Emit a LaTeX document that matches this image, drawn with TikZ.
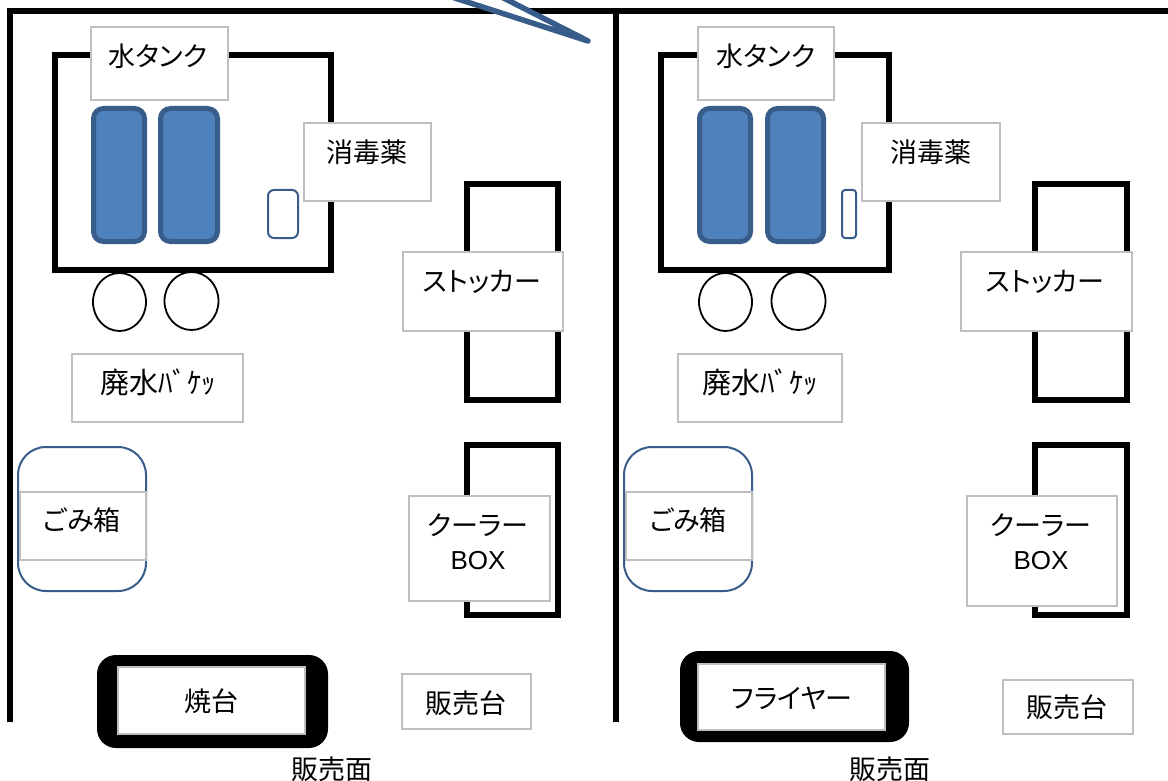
\documentclass[tikz,border=0pt]{standalone}
\usepackage{fontspec}
\setmainfont{Noto Sans CJK JP}[RawFeature=+palt]
\newfontfamily\latinfont{Liberation Sans}
\tikzset{
  x=1pt,y=-1pt,
  wall/.style={draw=black,line width=5.5pt,line cap=butt,line join=miter},
  tankblue/.style={draw=edgeblue,fill=faceblue,line width=5pt,rounded corners=10pt},
  thinblue/.style={draw=edgeblue,fill=white,line width=2pt},
  labelbox/.style={draw=boxgray,fill=white,line width=2pt},
  txt/.style={inner sep=0pt,font=\fontsize{27}{30}\selectfont,text=black},
  bigtxt/.style={inner sep=0pt,font=\fontsize{29}{32}\selectfont,text=black},
  latintxt/.style={inner sep=0pt,font=\latinfont\fontsize{26}{30}\selectfont,text=black},
  bucket/.style={draw=black,fill=white,line width=1.8pt},
  stove/.style={fill=black,rounded corners=19pt},
}
\definecolor{edgeblue}{HTML}{385D8A}
\definecolor{faceblue}{HTML}{4F81BD}
\definecolor{boxgray}{HTML}{BFBFBF}
\newcommand{\lbox}[8]{%
  \node[labelbox,inner sep=0pt,minimum width={(#4-#2)*1pt},minimum height={(#5-#3)*1pt}] (#1) at ({(#2+#4)/2},{(#3+#5)/2}) {};
  \node[txt] (#1t) at (#6,#7+1) {#8};}
\begin{document}
\begin{tikzpicture}
\useasboundingbox (0,0) rectangle (1168,781);
\clip (0,0) rectangle (1168,781);
% walls
\coordinate (wl) at (10,722);
\coordinate (wt) at (10,11);
\coordinate (wm) at (616,11);
\coordinate (wmb) at (616,722);
\coordinate (we) at (1168,11);
\draw[wall] (wl) -- (wt) -- (we);
\draw[wall] (wm) -- (wmb);
% callout
\coordinate (tip) at (588,41);
\coordinate (ca) at (430,-10);
\coordinate (cb) at (480,-14);
\draw[draw=edgeblue,line width=5.5pt,line join=round,fill=white] (ca) -- (tip) -- (cb);
% left tank
\draw[wall] (55,55) rectangle (331,270);
\draw[tankblue] (93.5,108.5) rectangle (144.5,241.5);
\draw[tankblue] (160.5,108.5) rectangle (217.5,241.5);
\draw[thinblue,rounded corners=6pt] (268,190) rectangle (298,238);
\draw[bucket] (119.5,302) ellipse [x radius=26.5,y radius=29];
\draw[bucket] (191.5,301) ellipse [x radius=27,y radius=29];
\draw[wall] (467,184) rectangle (558,400);
\draw[wall] (467,445) rectangle (558,615);
\draw[draw=edgeblue,fill=white,line width=2pt,rounded corners=28pt] (18,447) rectangle (146,591);
\fill[stove] (97,655) rectangle (328,748);
\lbox{a1}{91}{27}{228}{100}{158}{55}{水タンク}
\lbox{a2}{304}{123}{431}{201}{367}{151}{消毒薬}
\lbox{a3}{403}{252}{563}{331}{482}{281}{ストッカー}
\lbox{a4}{72}{354}{243}{422}{158}{381}{}
\node[bigtxt] (a4x) at (158,382) {廃水ﾊﾞｹｯ};
\lbox{a5}{20}{492}{146}{560}{82}{519}{ごみ箱}
\lbox{a6}{409}{496}{550}{601}{478}{524}{クーラー}
\node[latintxt] (a6b) at (478,561) {BOX};
\lbox{a7}{118}{667}{305}{734}{211}{700}{焼台}
\lbox{a8}{402}{674}{531}{729}{466}{702}{販売台}
\node[txt] (a9) at (332,769) {販売面};
% right tank
\draw[wall] (661,55) rectangle (889,270);
\draw[tankblue] (699.5,108.5) rectangle (750.5,241.5);
\draw[tankblue] (767.5,108.5) rectangle (823.5,241.5);
\draw[thinblue,rounded corners=3pt] (842,190) rectangle (856,238);
\draw[bucket] (725.5,302) ellipse [x radius=26.5,y radius=29];
\draw[bucket] (798.5,301) ellipse [x radius=27,y radius=29];
\draw[wall] (1035,184) rectangle (1127,400);
\draw[wall] (1035,445) rectangle (1127,615);
\draw[draw=edgeblue,fill=white,line width=2pt,rounded corners=28pt] (624,447) rectangle (752,591);
\fill[stove] (680,651) rectangle (909,742);
\lbox{b1}{698}{27}{834}{100}{766}{55}{水タンク}
\lbox{b2}{862}{123}{1000}{201}{931}{151}{消毒薬}
\lbox{b3}{961}{252}{1132}{331}{1045}{281}{ストッカー}
\lbox{b4}{678}{354}{842}{422}{760}{381}{}
\node[bigtxt] (b4x) at (760,382) {廃水ﾊﾞｹｯ};
\lbox{b5}{626}{492}{752}{560}{688}{519}{ごみ箱}
\lbox{b6}{967}{496}{1117}{606}{1041}{524}{クーラー}
\node[latintxt] (b6b) at (1041,561) {BOX};
\lbox{b7}{698}{664}{885}{730}{792}{697}{フライヤー}
\lbox{b8}{1003}{680}{1133}{734}{1067}{706}{販売台}
\node[txt] (b9) at (890,769) {販売面};
\end{tikzpicture}
\end{document}
